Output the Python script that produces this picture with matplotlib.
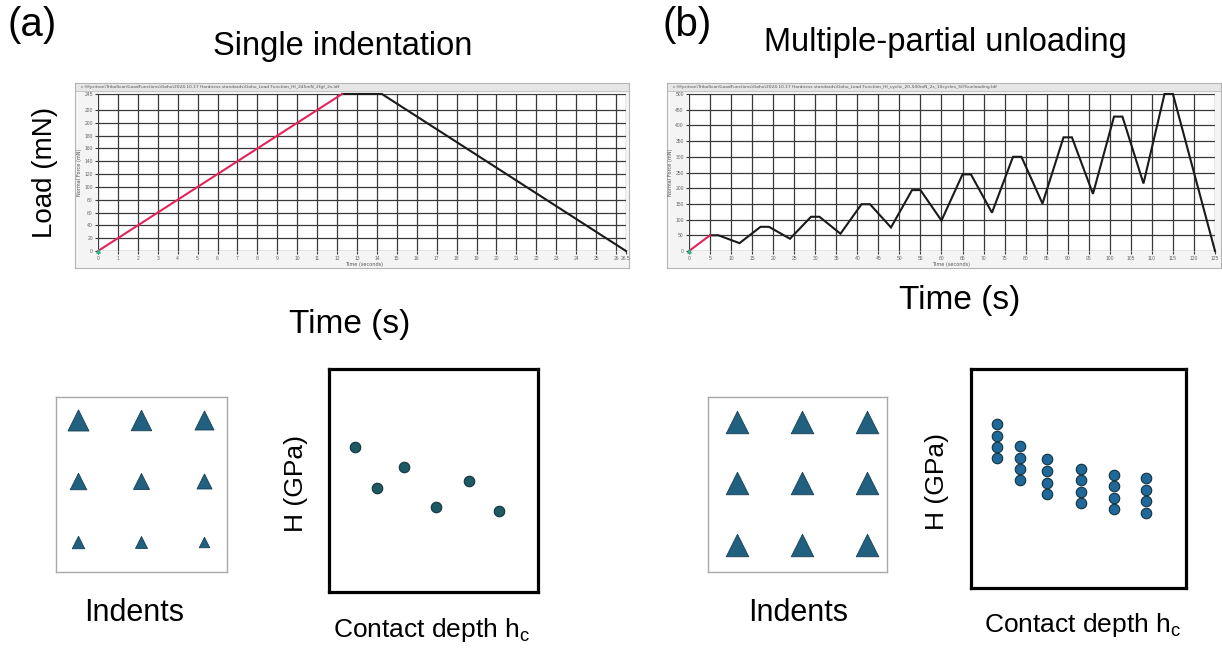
import matplotlib
matplotlib.use("Agg")
import matplotlib.pyplot as plt
from matplotlib.patches import Rectangle

W, H = 1222, 648
DPI = 100
PT = 72.0 / DPI  # points per pixel

# ---- load functions --------------------------------------------------------
# single indentation: load, hold, unload (time in s, load in mN)
t_single = [0, 12.25, 14.25, 26.5]
p_single = [0, 245, 245, 0]

# multiple partial unloading: 10 cycles, 50 % unloading each time
t_multi = [0, 5, 7, 12, 17, 19, 24, 29, 31, 36, 41, 43, 48, 53, 55, 60,
           65, 67, 72, 77, 79, 84, 89, 91, 96, 101, 103, 108, 113, 115, 125]
p_multi = [0, 50, 50, 25, 77, 77, 39, 109, 109, 55, 149, 149, 75, 194, 194, 97,
           244, 244, 122, 300, 300, 151, 362, 362, 182, 428, 428, 215, 500, 500, 0]

xticks_single = list(range(0, 27)) + [26.5]
yticks_single = list(range(0, 221, 20)) + [245]
xticks_multi = list(range(0, 126, 5))
yticks_multi = list(range(0, 501, 50))

# ---- schematic hardness vs contact depth (arbitrary units) -------------------
hc_single = [0.124, 0.230, 0.359, 0.512, 0.670, 0.813]
H_single = [0.650, 0.466, 0.561, 0.381, 0.498, 0.363]

hc_multi = [0.121, 0.228, 0.353, 0.512, 0.665, 0.814]
H_multi = [[0.749, 0.694, 0.644, 0.594],
           [0.648, 0.594, 0.543, 0.493],
           [0.589, 0.534, 0.479, 0.429],
           [0.543, 0.493, 0.438, 0.388],
           [0.516, 0.466, 0.411, 0.361],
           [0.502, 0.447, 0.397, 0.342]]

# indent footprint widths on the 3x3 grid (px)
indent_single = [[21, 20.5, 19], [16.5, 16, 15], [12.5, 12, 10.5]]
indent_multi = [[22.5, 22.5, 22.5], [22.5, 22.5, 22.5], [22.5, 22.5, 22.5]]

# ---- styling ---------------------------------------------------------------
plt.rcParams['font.family'] = ['Liberation Sans', 'DejaVu Sans']
plt.rcParams['mathtext.fontset'] = 'custom'
plt.rcParams['mathtext.rm'] = 'Liberation Sans'
plt.rcParams['mathtext.it'] = 'Liberation Sans'

RED = '#e3245a'
TRI = '#22607f'
TRI_EDGE = '#153f55'
DOT_A = '#1d5a63'
DOT_B = '#21689a'

fig = plt.figure(figsize=(W / DPI, H / DPI), dpi=DPI)
fig.patch.set_facecolor('white')


def px_axes(x0, y0, x1, y1, **kw):
    return fig.add_axes([x0 / W, 1 - y1 / H, (x1 - x0) / W, (y1 - y0) / H], **kw)


def px_text(x, y, s, **kw):
    return fig.text(x / W, 1 - y / H, s, **kw)


def software_window(frame, plot, title, t, p, xt, yt, xlab_x):
    x0, y0, x1, y1 = frame
    fax = px_axes(x0, y0, x1, y1)
    fax.set_xlim(0, 1)
    fax.set_ylim(0, 1)
    fax.set_facecolor('#f4f4f4')
    fax.set_xticks([])
    fax.set_yticks([])
    for s in fax.spines.values():
        s.set_color('#b5b5b5')
        s.set_linewidth(0.8)
    bar_h = 8 / (y1 - y0)
    fax.add_patch(Rectangle((0, 1 - bar_h), 1, bar_h, facecolor='#e6e6e6',
                            edgecolor='#b5b5b5', lw=0.5))
    fax.text(0.01, 1 - bar_h / 2, title, fontsize=3.2, color='#555555',
             va='center', ha='left', family='DejaVu Sans', clip_on=True)

    ax = px_axes(*plot)
    ax.set_facecolor('white')
    ax.set_xlim(xt[0], xt[-1])
    ax.set_ylim(yt[0], yt[-1])
    ax.set_xticks(xt)
    ax.set_yticks(yt)
    ax.set_xticklabels([('%g' % v) for v in xt])
    ax.set_yticklabels([('%g' % v) for v in yt])
    ax.tick_params(axis='both', direction='out', length=2.5, width=0.8,
                   color='#3a3a3a', labelsize=3.6, labelcolor='#666666', pad=1.2)
    ax.grid(True, color='#3a3a3a', lw=0.9)
    ax.set_axisbelow(True)
    for s in ax.spines.values():
        s.set_visible(False)
    ax.plot(t[1:], p[1:], color='#1a1a1a', lw=1.5, solid_joinstyle='miter',
            zorder=3, clip_on=False)
    ax.plot(t[:2], p[:2], color=RED, lw=1.5, zorder=4, clip_on=False)
    ax.plot([t[0]], [p[0]], marker='^', ms=2.5, color='#2bb58a', zorder=5,
            clip_on=False)
    ax.set_ylabel('Normal Force (mN)', fontsize=3.6, color='#555555',
                  family='DejaVu Sans', labelpad=1.5)
    px_text(xlab_x, y1 - 3.5, 'Time (seconds)', fontsize=3.6, color='#555555',
            family='DejaVu Sans', va='center', ha='left')
    return ax


def indent_grid(box, sizes, cols, rows):
    ax = px_axes(*box)
    ax.set_xlim(0, 1)
    ax.set_ylim(0, 1)
    ax.set_xticks([])
    ax.set_yticks([])
    for s in ax.spines.values():
        s.set_color('#a8a8a8')
        s.set_linewidth(1.0)
    for r, yr in enumerate(rows):
        for c, xc in enumerate(cols):
            ms = sizes[r][c] * PT
            ax.scatter([xc], [yr], marker='^', s=ms ** 2, color=TRI,
                       edgecolor=TRI_EDGE, linewidth=0.6, zorder=3)
    return ax


def hardness_box(box, hc, hv, color):
    ax = px_axes(*box)
    ax.set_xlim(0, 1)
    ax.set_ylim(0, 1)
    ax.set_xticks([])
    ax.set_yticks([])
    for s in ax.spines.values():
        s.set_color('black')
        s.set_linewidth(2.3)
    ms = 10.5 * PT
    for x, ys in zip(hc, hv):
        ys = ys if isinstance(ys, list) else [ys]
        ax.scatter([x] * len(ys), ys, s=ms ** 2, color=color,
                   edgecolor='#0f3340', linewidth=0.8, zorder=3)
    return ax


# ---- (a) single indentation ------------------------------------------------
software_window((75, 83, 629, 268), (98, 94, 626, 251),
                r'c:\Hysitron\TriboScan\LoadFunctions\Gohu\2024.10.17 Hardness standards\Gohu_Load Function_HI_245mN_2fgf_2s.ldf',
                t_single, p_single, xticks_single, yticks_single, 345)

# ---- (b) multiple partial unloading -----------------------------------------
software_window((667, 83, 1221, 268), (689, 94, 1215, 251),
                r'c:\Hysitron\TriboScan\LoadFunctions\Gohu\2024.10.17 Hardness standards\Gohu_Load Function_HI_cyclic_20-500mN_2s_10cycles_50%unloading.ldf',
                t_multi, p_multi, xticks_multi, yticks_multi, 932)

indent_grid((56, 397, 227, 572), indent_single,
            [0.129, 0.497, 0.865], [0.869, 0.52, 0.171])
indent_grid((708, 397, 887, 572), indent_multi,
            [0.162, 0.525, 0.888], [0.857, 0.509, 0.154])

hardness_box((329, 369, 538, 592), hc_single, H_single, DOT_A)
hardness_box((971, 369, 1186, 588), hc_multi, H_multi, DOT_B)

# ---- labels ------------------------------------------------------------------
px_text(8, 25, '(a)', fontsize=29, ha='left', va='center')
px_text(663, 25, '(b)', fontsize=29, ha='left', va='center')
px_text(343, 47, 'Single indentation', fontsize=23.5, ha='center', va='center')
px_text(945, 42, 'Multiple-partial unloading', fontsize=23.5, ha='center', va='center')
px_text(45, 172, 'Load (mN)', fontsize=20, rotation=90, ha='center', va='center')
px_text(350, 325, 'Time (s)', fontsize=24, ha='center', va='center')
px_text(960, 300, 'Time (s)', fontsize=24, ha='center', va='center')
px_text(134, 613, 'Indents', fontsize=22, ha='center', va='center')
px_text(798, 613, 'Indents', fontsize=22, ha='center', va='center')
px_text(296, 483, 'H (GPa)', fontsize=19, rotation=90, ha='center', va='center')
px_text(937, 482, 'H (GPa)', fontsize=19, rotation=90, ha='center', va='center')
px_text(432, 630, r'Contact depth h$_{\mathrm{c}}$', fontsize=19, ha='center', va='center')
px_text(1083, 625, r'Contact depth h$_{\mathrm{c}}$', fontsize=19, ha='center', va='center')

fig.savefig('out.png', dpi=DPI, facecolor='white')
